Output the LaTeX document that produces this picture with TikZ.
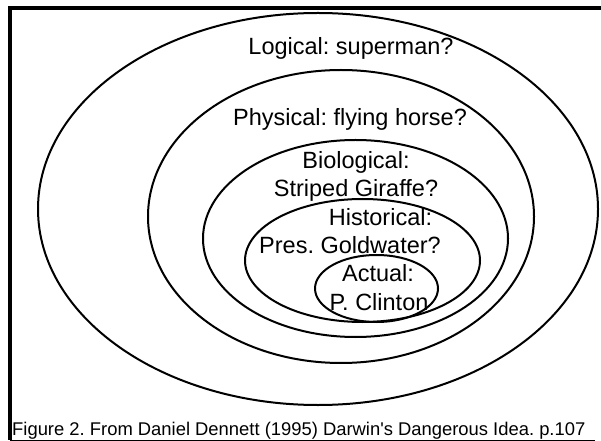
\documentclass[tikz,border=0pt]{standalone}
\usepackage{fontspec}
\setmainfont{Liberation Sans}
\frenchspacing

\tikzset{
  world/.style={line width=2bp},
  worldtext/.style={font=\fontsize{23.5bp}{28bp}\selectfont, anchor=base, inner sep=0pt},
  captiontext/.style={font=\fontsize{18.4bp}{22bp}\selectfont, anchor=base west, inner sep=0pt}
}

\begin{document}
\begin{tikzpicture}[x=1bp,y=-1bp]

            \useasboundingbox (0,0) rectangle (601,441);

            \draw[line width=4bp] (8,8)--(601,8);
            \draw[line width=4bp] (10,6)--(10,440);
            \draw[line width=1bp] (10,440)--(595,440);

            \draw[world] (318,209) ellipse (280 and 196);
            \draw[world] (341,216.5) ellipse (193 and 146.5);
            \draw[world] (355.5,238.5) ellipse (152.5 and 98.5);
            \draw[world] (362.5,260.5) ellipse (117.5 and 61.5);
            \draw[world] (376.5,288.5) ellipse (61.5 and 33.5);

            \node[worldtext] (logical)  at (351,55)  {Logical: superman?};
            \node[worldtext] (physical) at (350,126) {Physical: flying horse?};
            \node[worldtext] (bio1)     at (356,169) {Biological:};
            \node[worldtext] (bio2)     at (356,197) {Striped Giraffe?};
            \node[worldtext] (hist1)    at (380.5,226) {Historical:};
            \node[worldtext] (hist2)    at (350,254) {Pres. Goldwater?};
            \node[worldtext] (act1)     at (378,282) {Actual:};
            \node[worldtext] (act2)     at (379,310) {P. Clinton};

            \node[captiontext] (caption) at (12,435) {Figure 2. From Daniel Dennett (1995) Darwin\textquotesingle s Dangerous Idea. p.107};

\end{tikzpicture}
\end{document}
